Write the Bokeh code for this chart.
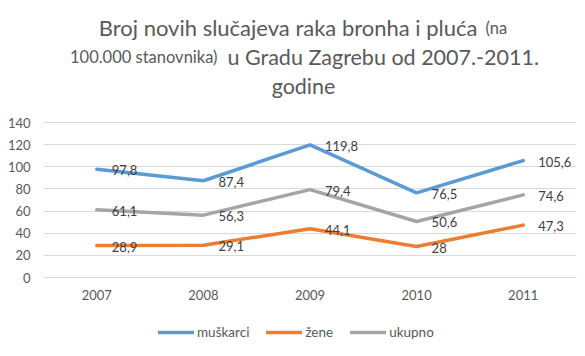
from bokeh.plotting import figure
from bokeh.models import (Range1d, FixedTicker, Legend, LegendItem, Label,
                          ColumnDataSource)
from bokeh.embed import file_html
from bokeh.resources import INLINE
from bokeh.core.properties import value

# ---- data ----
years = ["2007", "2008", "2009", "2010", "2011"]
muskarci = [97.8, 87.4, 119.8, 76.5, 105.6]
zene = [28.9, 29.1, 44.1, 28.0, 47.3]
ukupno = [61.1, 56.3, 79.4, 50.6, 74.6]
y_ticks = [0, 20, 40, 60, 80, 100, 120, 140]
series_names = ["muškarci", "žene", "ukupno"]
title_line1 = "Broj novih slučajeva raka bronha i pluća"
title_line1_small = "(na"
title_line2_small = "100.000 stanovnika)"
title_line2 = "u Gradu Zagrebu od 2007.-2011."
title_line3 = "godine"

FONT = "Lato"
colors = ["#5B9BD5", "#ED7D31", "#A5A5A5"]

# ---- layout constants (pixels, page coordinates) ----
W, H = 585, 356
FRAME_LEFT, FRAME_RIGHT = 43, 576
FRAME_BOTTOM = H
Y_TOP_PX, Y_ZERO_PX = 122, 277   # page y of the 140 and 0 gridlines
y_lo_val, y_hi_val = y_ticks[0], y_ticks[-1]
ppu = (Y_ZERO_PX - Y_TOP_PX) / (y_hi_val - y_lo_val)
y_start = y_lo_val - (FRAME_BOTTOM - Y_ZERO_PX) / ppu
y_end = y_hi_val + Y_TOP_PX / ppu


def fmt(v):
    return f"{v:g}".replace(".", ",")


p = figure(x_range=years, y_range=Range1d(y_start, y_end), width=W, height=H,
           output_backend="svg", toolbar_location=None,
           min_border_left=FRAME_LEFT, min_border_right=W - FRAME_RIGHT,
           min_border_top=0, min_border_bottom=0)
p.outline_line_color = None
p.background_fill_color = "white"
p.border_fill_color = "white"

# axes
for ax in (p.xaxis, p.yaxis):
    ax.major_tick_line_color = None
    ax.minor_tick_line_color = None
    ax.major_tick_out = 0
    ax.major_tick_in = 0
    ax.minor_tick_out = 0
    ax.minor_tick_in = 0
    ax.major_label_text_font = FONT
    ax.major_label_text_font_size = "13px"
    ax.major_label_text_color = "#595959"

p.yaxis.ticker = FixedTicker(ticks=y_ticks)
p.yaxis.axis_line_color = None
p.yaxis.major_label_standoff = 13
p.xaxis.fixed_location = 0
p.xaxis.axis_line_color = "#D9D9D9"
p.xaxis.major_label_standoff = 12

p.xgrid.grid_line_color = None
p.ygrid.grid_line_color = "#D9D9D9"
p.ygrid.grid_line_width = 1

renderers = []
for vals, col in zip([muskarci, zene, ukupno], colors):
    r = p.line(years, vals, line_color=col, line_width=3.5,
               line_join="round", line_cap="round")
    renderers.append(r)

for vals in [muskarci, zene, ukupno]:
    src = ColumnDataSource(dict(x=years, y=vals, t=[fmt(v) for v in vals]))
    p.text(x="x", y="y", text="t", source=src, x_offset=15, y_offset=1,
           text_baseline="middle", text_align="left",
           text_font=value(FONT), text_font_size="13px",
           text_color="#404040")

legend = Legend(items=[LegendItem(label=n, renderers=[r])
                       for n, r in zip(series_names, renderers)],
                orientation="horizontal",
                location=(158 - FRAME_LEFT, FRAME_BOTTOM - 342),
                padding=0, margin=0, spacing=17, label_standoff=3,
                glyph_width=36, glyph_height=20, label_height=20,
                label_text_font=FONT, label_text_font_size="13.5px",
                label_text_color="#595959", label_text_baseline="middle",
                border_line_color=None, background_fill_alpha=0)
p.add_layout(legend, "center")

# title (mixed sizes); positions given in page pixels
tcol = "#595959"
title_parts = [
    (477, 27, title_line1, "22px", "right"),
    (485, 27, title_line1_small, "16.5px", "left"),
    (217, 56, title_line2_small, "16.5px", "right"),
    (227, 56, title_line2, "21.5px", "left"),
    (303, 85, title_line3, "21.5px", "center"),
]
for px, py, t, fs, al in title_parts:
    p.add_layout(Label(x=px - FRAME_LEFT, y=FRAME_BOTTOM - py,
                       x_units="screen", y_units="screen", text=t,
                       text_font=FONT, text_font_size=fs, text_color=tcol,
                       text_align=al, text_baseline="alphabetic"))

open("out.html", "w").write(file_html(p, INLINE))
